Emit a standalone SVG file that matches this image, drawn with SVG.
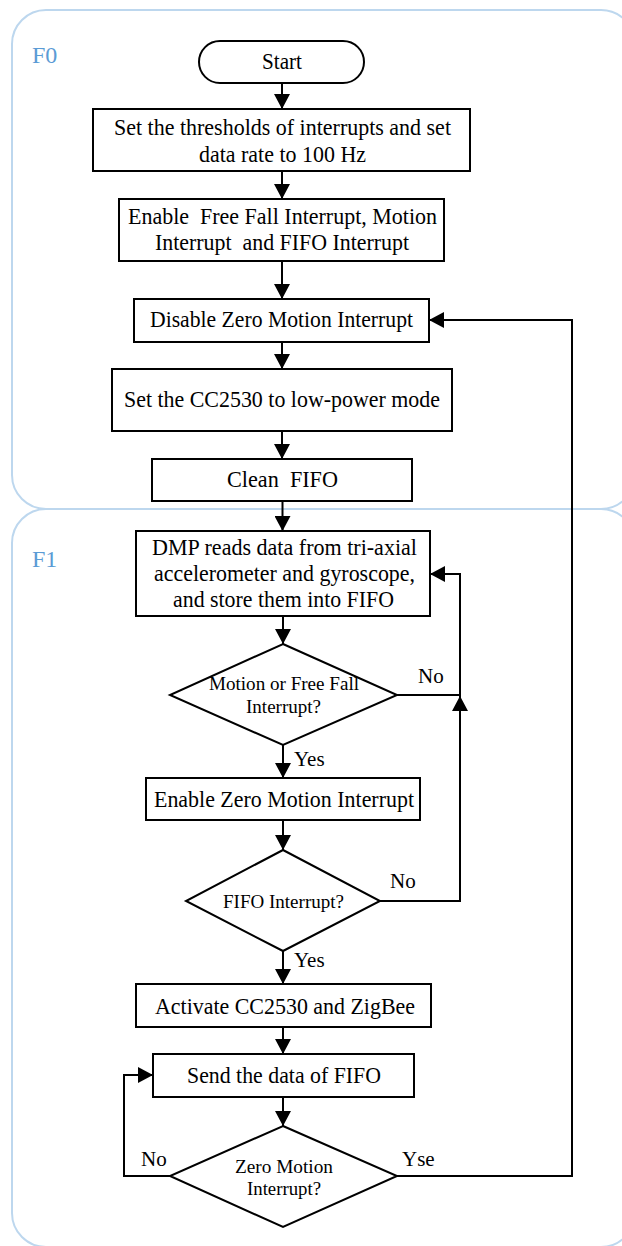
<svg xmlns="http://www.w3.org/2000/svg" width="622" height="1246" viewBox="0 0 622 1246">
<style>
.panel{fill:none;stroke:#bdd7ee;stroke-width:2}
.plabel{font-family:"Liberation Serif",serif;font-size:24px;fill:#5b9bd5}
.box{fill:#fff;stroke:#000;stroke-width:2}
.t{font-family:"Liberation Serif",serif;font-size:23.5px;fill:#000;text-anchor:middle;white-space:pre}
.td{font-family:"Liberation Serif",serif;font-size:19.5px;fill:#000;text-anchor:middle}
.lb{font-family:"Liberation Serif",serif;font-size:21px;fill:#000}
.c{fill:none;stroke:#000;stroke-width:2}
</style>
<defs>
<marker id="ah" markerUnits="userSpaceOnUse" markerWidth="16" markerHeight="16" viewBox="0 0 15 16" refX="15" refY="8" orient="auto">
<path d="M0,0 L15,8 L0,16 z" fill="#000"/>
</marker>
</defs>
<g id="panels">
<rect class="panel" x="12" y="10" width="623" height="499" rx="34"/>
<rect class="panel" x="12" y="509" width="623" height="738" rx="34"/>
<text class="plabel" x="32" y="63">F0</text>
<text class="plabel" x="32" y="567">F1</text>
</g>
<g id="connectors">
<path class="c" d="M282,83 V109" marker-end="url(#ah)"/>
<path class="c" d="M282,171 V199" marker-end="url(#ah)"/>
<path class="c" d="M282,261 V299" marker-end="url(#ah)"/>
<path class="c" d="M282,342 V369" marker-end="url(#ah)"/>
<path class="c" d="M282,431 V459" marker-end="url(#ah)"/>
<path class="c" d="M282.5,501 V531" marker-end="url(#ah)"/>
<path class="c" d="M283,616 V644" marker-end="url(#ah)"/>
<path class="c" d="M397,695 H460 V574 H430" marker-end="url(#ah)"/>
<path class="c" d="M283,745 V778" marker-end="url(#ah)"/>
<path class="c" d="M283,820 V850" marker-end="url(#ah)"/>
<path class="c" d="M380,901 H460 V696" marker-end="url(#ah)"/>
<path class="c" d="M283,951 V984" marker-end="url(#ah)"/>
<path class="c" d="M283,1027 V1054" marker-end="url(#ah)"/>
<path class="c" d="M283,1097 V1126" marker-end="url(#ah)"/>
<path class="c" d="M170,1176 H124 V1075 H153" marker-end="url(#ah)"/>
<path class="c" d="M397,1176 H572 V320 H429" marker-end="url(#ah)"/>
<text class="lb" x="418" y="683">No</text>
<text class="lb" x="294" y="766">Yes</text>
<text class="lb" x="390" y="888">No</text>
<text class="lb" x="294" y="967">Yes</text>
<text class="lb" x="141" y="1166">No</text>
<text class="lb" x="402" y="1166">Yse</text>
</g>
<g id="start">
<rect class="box" x="199" y="41" width="165" height="42" rx="21"/>
<text class="t" x="282" y="69" textLength="40" lengthAdjust="spacingAndGlyphs">Start</text>
</g>
<g id="set-thresholds">
<rect class="box" x="93" y="109" width="377" height="62"/>
<text class="t" x="282.5" y="135" textLength="337" lengthAdjust="spacingAndGlyphs">Set the thresholds of interrupts and set</text>
<text class="t" x="282.5" y="162" textLength="167" lengthAdjust="spacingAndGlyphs">data rate to 100 Hz</text>
</g>
<g id="enable-interrupts">
<rect class="box" x="119" y="199" width="325" height="62"/>
<text class="t" x="282.5" y="224" textLength="309" lengthAdjust="spacingAndGlyphs">Enable  Free Fall Interrupt, Motion</text>
<text class="t" x="282" y="250" textLength="254" lengthAdjust="spacingAndGlyphs">Interrupt  and FIFO Interrupt</text>
</g>
<g id="disable-zero">
<rect class="box" x="134" y="299" width="295" height="43"/>
<text class="t" x="281.5" y="327" textLength="263" lengthAdjust="spacingAndGlyphs">Disable Zero Motion Interrupt</text>
</g>
<g id="low-power">
<rect class="box" x="112" y="369" width="340" height="62"/>
<text class="t" x="282" y="407" textLength="316" lengthAdjust="spacingAndGlyphs">Set the CC2530 to low-power mode</text>
</g>
<g id="clean-fifo">
<rect class="box" x="152" y="459" width="260" height="42"/>
<text class="t" x="282.5" y="487" textLength="111" lengthAdjust="spacingAndGlyphs">Clean  FIFO</text>
</g>
<g id="dmp-read">
<rect class="box" x="136" y="531" width="294" height="85"/>
<text class="t" x="284.5" y="555" textLength="265" lengthAdjust="spacingAndGlyphs">DMP reads data from tri-axial</text>
<text class="t" x="284.5" y="581" textLength="261" lengthAdjust="spacingAndGlyphs">accelerometer and gyroscope,</text>
<text class="t" x="283.5" y="607" textLength="221" lengthAdjust="spacingAndGlyphs">and store them into FIFO</text>
</g>
<g id="motion-decision">
<polygon class="box" points="283,644 397,695 283,745 170,695"/>
<text class="td" x="284" y="690" textLength="150" lengthAdjust="spacingAndGlyphs">Motion or Free Fall</text>
<text class="td" x="283.5" y="713" textLength="75" lengthAdjust="spacingAndGlyphs">Interrupt?</text>
</g>
<g id="enable-zero">
<rect class="box" x="146" y="778" width="274" height="42"/>
<text class="t" x="284" y="807" textLength="260" lengthAdjust="spacingAndGlyphs">Enable Zero Motion Interrupt</text>
</g>
<g id="fifo-decision">
<polygon class="box" points="283,850 380,901 283,951 186,901"/>
<text class="td" x="283.5" y="908" textLength="121" lengthAdjust="spacingAndGlyphs">FIFO Interrupt?</text>
</g>
<g id="activate">
<rect class="box" x="136" y="984" width="295" height="43"/>
<text class="t" x="285" y="1014" textLength="260" lengthAdjust="spacingAndGlyphs">Activate CC2530 and ZigBee</text>
</g>
<g id="send-data">
<rect class="box" x="153" y="1054" width="261" height="43"/>
<text class="t" x="284" y="1083" textLength="194" lengthAdjust="spacingAndGlyphs">Send the data of FIFO</text>
</g>
<g id="zero-decision">
<polygon class="box" points="283,1126 397,1176 283,1227 170,1176"/>
<text class="td" x="284" y="1173" textLength="98" lengthAdjust="spacingAndGlyphs">Zero Motion</text>
<text class="td" x="284" y="1195" textLength="74" lengthAdjust="spacingAndGlyphs">Interrupt?</text>
</g>
</svg>
